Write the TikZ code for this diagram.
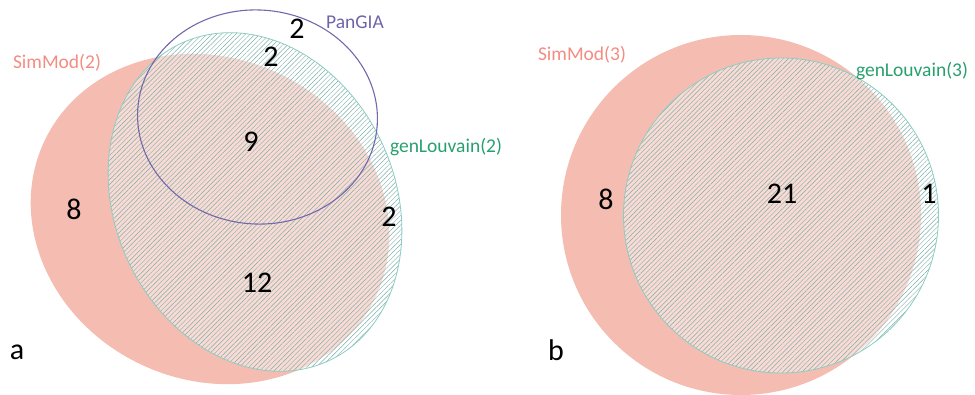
\documentclass[tikz,border=0pt]{standalone}
\usepackage{fontspec}
\setmainfont{Carlito}
\usetikzlibrary{patterns.meta}
\definecolor{pinkfill}{RGB}{245,189,177}
\definecolor{hatch}{RGB}{125,175,168}
\definecolor{tealedge}{RGB}{140,205,195}
\definecolor{pur}{RGB}{112,106,170}
\definecolor{pinktxt}{RGB}{243,140,130}
\definecolor{purtxt}{RGB}{110,100,170}
\definecolor{grntxt}{RGB}{40,160,110}
\tikzset{
 simset/.style={fill=pinkfill},
 genwash/.style={fill=white, fill opacity=0.45},
 genhatch/.style={pattern={Lines[angle=45,distance=3.4pt,line width=0.45pt]}, pattern color=hatch, fill opacity=0.6},
 genedge/.style={draw=tealedge, line width=0.8pt},
 panedge/.style={draw=pur, line width=1.1pt},
 num/.style={inner sep=0pt, font=\fontsize{30}{36}\selectfont},
 lab/.style={inner sep=0pt, font=\fontsize{19.5}{23}\selectfont},
}
\begin{document}
\begin{tikzpicture}[x=1pt,y=-1pt]
\useasboundingbox (0,0) rectangle (975,395);
% ---- panel a ----
\fill[simset, rotate around={-25:(210,219)}] (210,219) ellipse [x radius=183, y radius=161];
\fill[genwash, rotate around={25:(255,202)}] (255,202) ellipse [x radius=140, y radius=175];
\fill[genhatch, rotate around={25:(255,202)}] (255,202) ellipse [x radius=140, y radius=175];
\draw[genedge, rotate around={25:(255,202)}] (255,202) ellipse [x radius=140, y radius=175];
\draw[panedge, rotate around={-4:(257.5,117)}] (257.5,117) ellipse [x radius=120, y radius=107];
\node[lab, text=pinktxt] (lsa) at (57,63) {SimMod(2)};
\node[lab, text=purtxt] (lpa) at (355,22) {PanGIA};
\node[lab, text=grntxt] (lga) at (446,147) {genLouvain(2)};
\node[num] (n1) at (297,29) {2};
\node[num] (n2) at (271,57) {2};
\node[num] (n3) at (251,142) {9};
\node[num] (n4) at (74,209) {8};
\node[num] (n5) at (389,217) {2};
\node[num] (n6) at (257,283) {12};
\node[num] (pa) at (17,352) {a};
% ---- panel b ----
\fill[simset] (741,215) circle [radius=180];
\fill[genwash] (781,215.5) circle [radius=157.5];
\fill[genhatch] (781,215.5) circle [radius=157.5];
\draw[genedge] (781,215.5) circle [radius=157.5];
\node[lab, text=pinktxt] (lsb) at (582,55) {SimMod(3)};
\node[lab, text=grntxt] (lgb) at (912,71) {genLouvain(3)};
\node[num] (m1) at (606,199) {8};
\node[num] (m2) at (782,194) {21};
\node[num] (m3) at (929,194) {1};
\node[num] (pb) at (556,350) {b};
\end{tikzpicture}
\end{document}
